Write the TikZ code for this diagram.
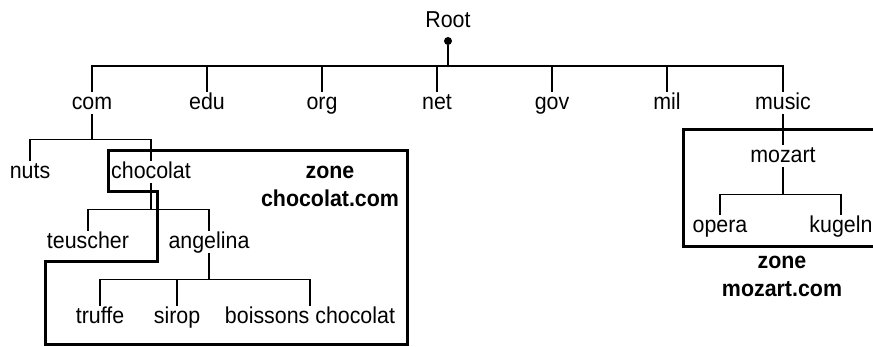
\documentclass[tikz,border=0pt]{standalone}
\usepackage{fontspec}
\setmainfont{Liberation Sans}[FakeStretch=0.93]

\begin{document}
\begin{tikzpicture}[
    x=1pt, y=-1pt,
    dnsname/.style={font=\fontsize{23}{28}\selectfont, inner sep=0pt, anchor=base,
                    text height=17pt, text depth=5pt},
    zonelabel/.style={font=\fontsize{23}{28}\selectfont\bfseries, inner sep=0pt,
                      anchor=base, align=center},
    rootdot/.style={circle, fill, inner sep=0pt, minimum size=8pt},
    branch/.style={line width=1.3pt},
    zone/.style={line width=3pt, line join=miter},
  ]

  \useasboundingbox (0,0) rectangle (873,346);
  \clip (0,0) rectangle (873,346);

  % --- Root and top-level domains ---
  \node[dnsname] (root) at (448,27) {Root};
  \node[rootdot] (dot) at (448,41) {};
  \coordinate (bus) at (448,66);
  \draw[branch] (dot) -- (bus);
  \foreach \name/\x in {com/92, edu/207, org/322, net/437, gov/552, mil/667, music/783} {
    \node[dnsname] (\name) at (\x,109) {\name};
    \draw[branch] (\name.north) |- (bus);
  }

  % --- com subtree ---
  \node[dnsname] (nuts) at (30,178) {nuts};
  \node[dnsname] (chocolat) at (151,178) {chocolat};
  \draw[branch] (com.south) -- ++(0,25) coordinate (comfork);
  \foreach \kid in {nuts, chocolat}
    \draw[branch] (\kid.north) |- (comfork);

  \node[dnsname] (teuscher) at (88,248) {teuscher};
  \node[dnsname] (angelina) at (209,248) {angelina};
  \draw[branch] (chocolat.south) -- ++(0,26) coordinate (chocfork);
  \foreach \kid in {teuscher, angelina}
    \draw[branch] (\kid.north) |- (chocfork);

  \node[dnsname] (truffe) at (100,323) {truffe};
  \node[dnsname] (sirop) at (177,323) {sirop};
  \node[dnsname] (boissons) at (310,323) {boissons chocolat};
  \draw[branch] (angelina.south) -- ++(0,26) coordinate (angfork);
  \foreach \kid in {truffe, sirop, boissons}
    \draw[branch] (\kid.north) |- (angfork);

  % --- music subtree ---
  \node[dnsname] (mozart) at (783,162) {mozart};
  \draw[branch] (music.south) -- (mozart.north);
  \node[dnsname] (opera) at (720,232) {opera};
  \node[dnsname] (kugeln) at (841,232) {kugeln};
  \draw[branch] (mozart.south) -- ++(0,27) coordinate (mozfork);
  \foreach \kid in {opera, kugeln}
    \draw[branch] (\kid.north) |- (mozfork);

  % --- Zones ---
  \draw[zone] (108,150) -- (407,150) -- (407,344.5) -- (45,344.5) -- (45,261)
              -- (157,261) -- (157,191) -- (108,191) -- cycle;
  \node[zonelabel] (zonechoc) at (330,206) {zone\\chocolat.com};

  \draw[zone] (683,129.5) rectangle (890,246.5);
  \node[zonelabel] (zonemoz) at (782,296) {zone\\mozart.com};

\end{tikzpicture}
\end{document}
